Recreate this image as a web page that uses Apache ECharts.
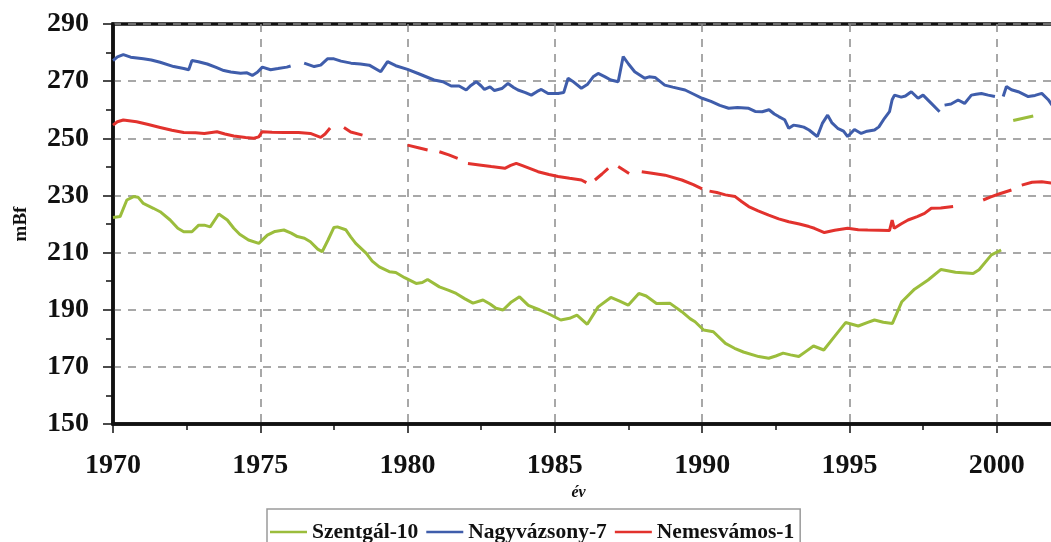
<!DOCTYPE html>
<html>
<head>
<meta charset="utf-8">
<title>Talajvízszint idősorok</title>
<script src="https://cdn.jsdelivr.net/npm/echarts@6/dist/echarts.min.js"></script>
<style>
  html, body { margin: 0; padding: 0; background: #ffffff; }
  #chart { width: 1051px; height: 542px; }
</style>
</head>
<body>
<div id="chart"></div>
<script>
// Well levels (mBf) by year; null marks a break in the record.
const szentgal10 = [
  [1970.00, 222.3], [1970.24, 222.6], [1970.47, 228.4], [1970.70, 229.6], [1970.85, 229.4],
  [1971.03, 227.2], [1971.37, 225.5], [1971.60, 224.3], [1971.94, 221.4], [1972.20, 218.5],
  [1972.40, 217.3], [1972.68, 217.3], [1972.91, 219.6], [1973.10, 219.6], [1973.30, 219.0],
  [1973.59, 223.5], [1973.88, 221.4], [1974.10, 218.5], [1974.30, 216.4], [1974.60, 214.4],
  [1974.95, 213.2], [1975.24, 216.1], [1975.50, 217.4], [1975.80, 217.9], [1976.05, 216.8],
  [1976.26, 215.6], [1976.50, 215.0], [1976.70, 213.8], [1976.95, 211.2], [1977.10, 210.3],
  [1977.30, 214.4], [1977.50, 218.8], [1977.62, 219.0], [1977.90, 218.0], [1978.07, 215.5],
  [1978.24, 213.2], [1978.60, 209.7], [1978.80, 207.0], [1979.04, 205.0], [1979.38, 203.3],
  [1979.60, 203.0], [1979.90, 201.2], [1980.29, 199.2], [1980.50, 199.5], [1980.68, 200.6],
  [1981.08, 198.0], [1981.40, 196.8], [1981.65, 195.7], [1981.95, 193.8], [1982.22, 192.3],
  [1982.56, 193.4], [1982.80, 192.0], [1983.00, 190.5], [1983.24, 189.9], [1983.50, 192.5],
  [1983.80, 194.5], [1984.10, 191.5], [1984.49, 189.9], [1984.80, 188.5], [1985.20, 186.4],
  [1985.50, 187.0], [1985.75, 188.1], [1986.10, 184.9], [1986.47, 191.0], [1986.90, 194.3],
  [1987.20, 193.0], [1987.49, 191.6], [1987.85, 195.7], [1988.10, 194.8], [1988.45, 192.2],
  [1988.90, 192.3], [1989.31, 189.3], [1989.60, 186.8], [1989.76, 185.8], [1990.05, 182.9],
  [1990.38, 182.3], [1990.79, 178.2], [1991.10, 176.5], [1991.40, 175.2], [1991.92, 173.6],
  [1992.26, 173.0], [1992.50, 173.8], [1992.75, 174.8], [1993.00, 174.2], [1993.28, 173.6],
  [1993.55, 175.6], [1993.78, 177.3], [1994.13, 175.9], [1994.49, 180.6], [1994.87, 185.5],
  [1995.30, 184.3], [1995.60, 185.5], [1995.85, 186.4], [1996.15, 185.6], [1996.46, 185.2],
  [1996.78, 192.8], [1997.21, 197.2], [1997.67, 200.4], [1998.11, 204.1], [1998.60, 203.1],
  [1999.20, 202.7], [1999.40, 204.0], [1999.82, 209.2], [2000.15, 210.9],
  [2000.35, null],
  [2000.56, 256.2], [2000.90, 257.0], [2001.24, 257.8]
];

const nagyvazsony7 = [
  [1970.00, 277.2], [1970.15, 278.5], [1970.35, 279.3], [1970.60, 278.4], [1971.03, 277.8],
  [1971.30, 277.4], [1971.60, 276.6], [1972.06, 275.1], [1972.40, 274.4], [1972.57, 274.0],
  [1972.68, 277.2], [1972.90, 276.8], [1973.20, 276.0], [1973.50, 274.8], [1973.76, 273.7],
  [1974.00, 273.2], [1974.33, 272.8], [1974.55, 272.9], [1974.73, 272.0], [1974.90, 273.1],
  [1975.07, 274.9], [1975.35, 274.0], [1975.60, 274.4], [1975.90, 274.9], [1976.03, 275.3],
  [1976.25, null],
  [1976.49, 276.3], [1976.83, 275.1], [1977.05, 275.6], [1977.28, 277.8], [1977.50, 277.8],
  [1977.74, 277.0], [1978.08, 276.3], [1978.40, 276.0], [1978.70, 275.6], [1979.09, 273.3],
  [1979.32, 276.8], [1979.60, 275.4], [1980.00, 274.1], [1980.40, 272.5], [1980.90, 270.4],
  [1981.20, 269.8], [1981.48, 268.3], [1981.75, 268.3], [1981.99, 266.9], [1982.15, 268.5],
  [1982.33, 269.8], [1982.50, 268.3], [1982.61, 267.1], [1982.80, 268.0], [1982.95, 266.7],
  [1983.20, 267.4], [1983.41, 269.2], [1983.60, 267.8], [1983.75, 266.9], [1984.00, 266.0],
  [1984.20, 265.1], [1984.40, 266.4], [1984.54, 267.1], [1984.77, 265.7], [1985.11, 265.7],
  [1985.30, 266.0], [1985.45, 271.0], [1985.60, 270.0], [1985.90, 267.5], [1986.10, 268.8],
  [1986.30, 271.5], [1986.47, 272.7], [1986.69, 271.6], [1986.90, 270.4], [1987.15, 269.8],
  [1987.32, 278.6], [1987.50, 276.0], [1987.71, 273.3], [1988.05, 271.0], [1988.20, 271.5],
  [1988.40, 271.3], [1988.73, 268.6], [1989.00, 267.9], [1989.42, 266.9], [1989.70, 265.5],
  [1990.00, 264.0], [1990.30, 262.9], [1990.60, 261.5], [1990.90, 260.5], [1991.20, 260.8],
  [1991.58, 260.5], [1991.80, 259.4], [1992.04, 259.3], [1992.27, 260.0], [1992.45, 258.5],
  [1992.60, 257.6], [1992.80, 256.5], [1992.94, 253.5], [1993.10, 254.6], [1993.28, 254.3],
  [1993.45, 253.9], [1993.63, 252.9], [1993.80, 251.5], [1993.91, 250.6], [1994.08, 255.2],
  [1994.26, 258.1], [1994.40, 255.5], [1994.60, 253.5], [1994.80, 252.5], [1994.94, 250.6],
  [1995.17, 253.1], [1995.40, 251.7], [1995.60, 252.5], [1995.85, 252.9], [1996.00, 254.0],
  [1996.19, 257.0], [1996.36, 259.3], [1996.45, 263.5], [1996.53, 265.1], [1996.76, 264.4],
  [1996.90, 264.8], [1997.10, 266.3], [1997.33, 264.0], [1997.50, 265.1], [1997.78, 262.2],
  [1998.06, 259.3],
  [1998.15, null],
  [1998.23, 261.6], [1998.45, 262.0], [1998.69, 263.4], [1998.91, 262.2], [1999.14, 265.1],
  [1999.30, 265.4], [1999.48, 265.7], [1999.71, 265.1], [1999.94, 264.6],
  [2000.08, null],
  [2000.22, 264.6], [2000.33, 268.1], [2000.50, 267.0], [2000.73, 266.3], [2001.07, 264.6],
  [2001.30, 265.0], [2001.53, 265.7], [2001.75, 263.5], [2001.95, 260.5], [2002.10, 259.0]
];

const nemesvamos1 = [
  [1970.00, 254.6], [1970.15, 255.8], [1970.35, 256.4], [1970.80, 255.8], [1971.20, 254.8],
  [1971.60, 253.8], [1972.00, 252.8], [1972.40, 252.0], [1972.80, 251.9], [1973.10, 251.7],
  [1973.53, 252.3], [1973.80, 251.5], [1974.10, 250.8], [1974.50, 250.3], [1974.78, 250.0],
  [1974.95, 250.5], [1975.06, 252.3], [1975.40, 252.1], [1975.80, 252.0], [1976.30, 252.0],
  [1976.70, 251.7], [1977.05, 250.3], [1977.20, 251.5], [1977.37, 253.6],
  [1977.60, null],
  [1977.84, 253.8], [1978.07, 252.2], [1978.47, 251.1],
  [1979.20, null],
  [1980.00, 247.6], [1980.40, 246.6], [1980.68, 245.9],
  [1980.90, null],
  [1981.08, 245.3], [1981.40, 244.2], [1981.70, 243.0],
  [1981.90, null],
  [1982.05, 241.2], [1982.50, 240.6], [1982.84, 240.1], [1983.30, 239.5], [1983.50, 240.5],
  [1983.69, 241.2], [1983.90, 240.4], [1984.43, 238.3], [1984.80, 237.3], [1985.11, 236.6],
  [1985.50, 236.0], [1985.90, 235.4], [1986.07, 234.5],
  [1986.20, null],
  [1986.36, 235.4], [1986.60, 237.5], [1986.81, 239.5],
  [1987.00, null],
  [1987.15, 240.1], [1987.35, 238.8], [1987.52, 237.7],
  [1987.75, null],
  [1987.95, 238.3], [1988.30, 237.8], [1988.74, 237.1], [1989.31, 235.4], [1989.70, 233.8],
  [1990.00, 232.3],
  [1990.12, null],
  [1990.25, 231.5], [1990.50, 231.0], [1990.79, 230.2], [1991.12, 229.6], [1991.35, 227.8],
  [1991.58, 226.1], [1991.90, 224.6], [1992.26, 223.1], [1992.60, 221.8], [1992.94, 220.8],
  [1993.30, 220.0], [1993.63, 219.1], [1993.81, 218.5], [1994.15, 217.0], [1994.50, 217.8],
  [1994.94, 218.5], [1995.30, 218.0], [1995.62, 217.9], [1996.00, 217.8], [1996.36, 217.7],
  [1996.45, 221.4], [1996.52, 218.5], [1996.75, 220.0], [1996.99, 221.4], [1997.30, 222.6],
  [1997.55, 223.7], [1997.78, 225.5], [1998.10, 225.6], [1998.52, 226.1],
  [1999.00, null],
  [1999.54, 228.4], [1999.80, 229.5], [2000.10, 230.6], [2000.50, 231.9],
  [2000.65, null],
  [2000.85, 233.6], [2001.20, 234.6], [2001.53, 234.8], [2001.95, 234.2]
];

const seriesNames = ['Szentgál-10', 'Nagyvázsony-7', 'Nemesvámos-1'];
const seriesColors = ['#9bbd3c', '#3f5dab', '#e2322d'];
const seriesData = [szentgal10, nagyvazsony7, nemesvamos1];

const yearTicks = { min: 1970, max: 2005, step: 5 };
const levelTicks = { min: 150, max: 290, step: 20 };

const serif = '"Liberation Serif", "DejaVu Serif", serif';
const gridDash = { color: '#8c8c8c', width: 1.5, type: [8, 7] };

const chart = echarts.init(document.getElementById('chart'), null, { renderer: 'canvas' });

chart.setOption({
  backgroundColor: '#ffffff',
  animation: false,
  grid: {
    left: 113,
    top: 24,
    bottom: 118,
    right: -93,
    outerBoundsMode: 'none',
    containLabel: false,
    show: true,
    borderColor: '#111111',
    borderWidth: 3.5,
    backgroundColor: 'transparent'
  },
  legend: {
    data: seriesNames,
    left: 267,
    top: 509,
    orient: 'horizontal',
    icon: 'rect',
    padding: [12, 6, 14, 3],
    itemGap: 8,
    itemWidth: 37,
    itemHeight: 2.5,
    borderColor: '#9a9a9a',
    borderWidth: 1.5,
    textStyle: { fontFamily: serif, fontWeight: 'bold', fontSize: 21.5, color: '#111111' }
  },
  xAxis: {
    type: 'value',
    min: yearTicks.min,
    max: yearTicks.max,
    interval: yearTicks.step,
    name: 'év',
    nameLocation: 'middle',
    nameGap: 53,
    nameTextStyle: {
      fontFamily: serif, fontWeight: 'bold', fontStyle: 'italic', fontSize: 16, color: '#111111',
      padding: [0, 100, 0, 0]
    },
    axisLine: { show: true, onZero: false, lineStyle: { color: '#111111', width: 3.5 } },
    axisTick: { show: true, inside: false, length: 9, lineStyle: { color: '#111111', width: 1.5 } },
    minorTick: { show: true, splitNumber: 2, length: 6, lineStyle: { color: '#111111', width: 1.5 } },
    axisLabel: {
      margin: 28,
      fontFamily: serif, fontWeight: 'bold', fontSize: 28, color: '#111111',
      formatter: (v) => String(v)
    },
    splitLine: { show: true, lineStyle: gridDash }
  },
  yAxis: {
    type: 'value',
    min: levelTicks.min,
    max: levelTicks.max,
    interval: levelTicks.step,
    name: 'mBf',
    nameLocation: 'middle',
    nameRotate: 90,
    nameGap: 82,
    nameTextStyle: { fontFamily: serif, fontWeight: 'bold', fontSize: 19, color: '#111111' },
    axisLine: { show: true, onZero: false, lineStyle: { color: '#111111', width: 3.5 } },
    axisTick: { show: true, inside: false, length: 10, lineStyle: { color: '#111111', width: 1.5 } },
    minorTick: { show: true, splitNumber: 2, length: 7, lineStyle: { color: '#111111', width: 1.5 } },
    axisLabel: {
      margin: 24,
      fontFamily: serif, fontWeight: 'bold', fontSize: 28, color: '#111111'
    },
    splitLine: { show: true, lineStyle: gridDash }
  },
  series: seriesNames.map((name, i) => ({
    name: name,
    type: 'line',
    data: seriesData[i],
    symbol: 'none',
    showSymbol: false,
    connectNulls: false,
    clip: true,
    lineStyle: { color: seriesColors[i], width: 3 },
    itemStyle: { color: seriesColors[i] },
    z: 3
  }))
});
</script>
</body>
</html>
